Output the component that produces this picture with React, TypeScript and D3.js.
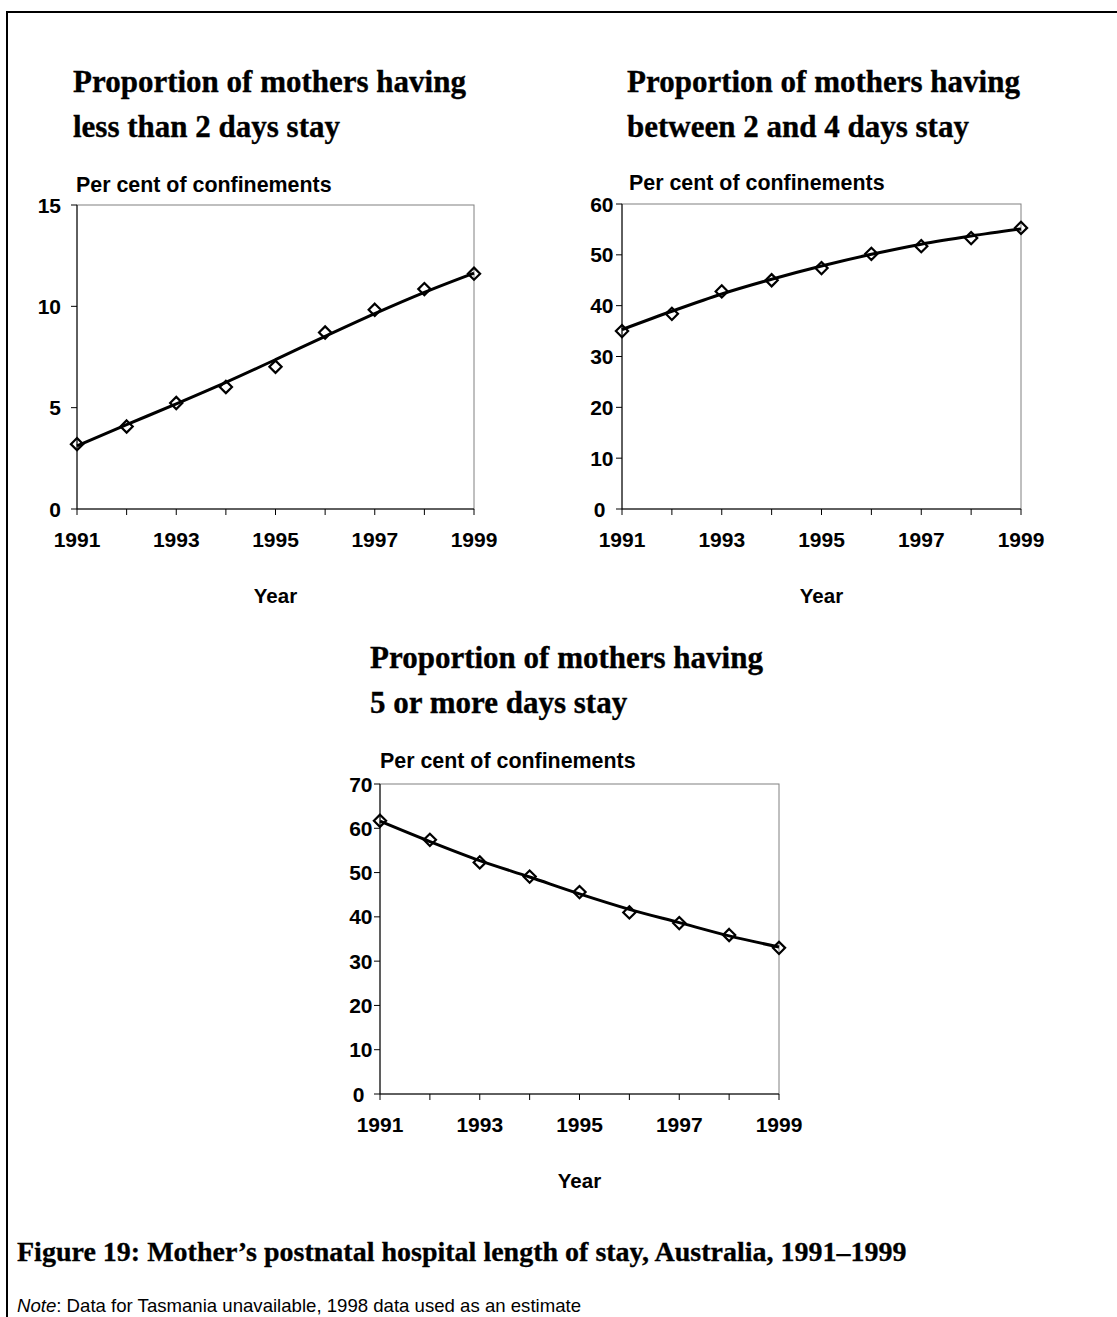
import React from "react";
import * as d3 from "d3";

// ---- data ----
const years = [1991, 1992, 1993, 1994, 1995, 1996, 1997, 1998, 1999];
const xTickLabels = [1991, 1993, 1995, 1997, 1999];

const lessThan2Days = [3.2, 4.07, 5.23, 6.02, 7.02, 8.71, 9.83, 10.85, 11.61];
const lessThan2DaysTrend = [3.12, 4.16, 5.19, 6.25, 7.37, 8.52, 9.64, 10.69, 11.64];
const lessThan2Ticks = [0, 5, 10, 15];

const between2And4Days = [35.0, 38.4, 42.8, 45.0, 47.4, 50.2, 51.7, 53.3, 55.3];
const between2And4DaysTrend = [35.3, 38.9, 42.3, 45.2, 47.8, 50.1, 52.1, 53.7, 55.1];
const between2And4Ticks = [0, 10, 20, 30, 40, 50, 60];

const fiveOrMoreDays = [61.7, 57.4, 52.3, 49.1, 45.6, 41.0, 38.6, 35.9, 33.0];
const fiveOrMoreDaysTrend = [61.6, 57.0, 52.7, 49.0, 45.2, 41.7, 38.7, 35.7, 33.2];
const fiveOrMoreTicks = [0, 10, 20, 30, 40, 50, 60, 70];

const titles1 = ["Proportion of mothers having", "less than 2 days stay"];
const titles2 = ["Proportion of mothers having", "between 2 and 4 days stay"];
const titles3 = ["Proportion of mothers having", "5 or more days stay"];
const yAxisTitle = "Per cent of confinements";
const xAxisTitle = "Year";
const caption = "Figure 19: Mother\u2019s postnatal hospital length of stay, Australia, 1991\u20131999";
const noteLabel = "Note";
const noteText = ": Data for Tasmania unavailable, 1998 data used as an estimate";

const SANS = "'Liberation Sans', Arial, Helvetica, sans-serif";
const SERIF = "'Liberation Serif', 'Times New Roman', Times, serif";

type ChartProps = {
  left: number;
  top: number;
  width: number;
  height: number;
  values: number[];
  trend: number[];
  ticks: number[];
  titleLines: string[];
  titleX: number;
  titleY: number;
  labelX: number;
  labelY: number;
  yLabelGap: number;
  zeroShift: number;
};

function Chart(p: ChartProps) {
  const x = d3.scaleLinear().domain([years[0], years[years.length - 1]]).range([p.left, p.left + p.width]);
  const yMax = p.ticks[p.ticks.length - 1];
  const y = d3.scaleLinear().domain([0, yMax]).range([p.top + p.height, p.top]);
  const pts = years.map((yr, i) => ({ yr, v: p.values[i], t: p.trend[i] }));
  const line = d3
    .line<{ yr: number; t: number }>()
    .x((d) => x(d.yr))
    .y((d) => y(d.t))
    .curve(d3.curveMonotoneX);
  const diamond = d3.symbol().type(d3.symbolDiamond2).size(95)();
  const bottom = p.top + p.height;
  return (
    <g>
      {p.titleLines.map((t, i) => (
        <text
          key={i}
          x={p.titleX}
          y={p.titleY + i * 45}
          fontFamily={SERIF}
          fontWeight="bold"
          fontSize={31}
          fill="#000"
          stroke="#000"
          strokeWidth={0.35}
        >
          {t}
        </text>
      ))}
      <text x={p.labelX} y={p.labelY} fontFamily={SANS} fontWeight="bold" fontSize={21.4} fill="#000">
        {yAxisTitle}
      </text>
      <rect x={p.left} y={p.top} width={p.width} height={p.height} fill="none" stroke="#808080" strokeWidth={1} />
      <line x1={p.left} x2={p.left} y1={p.top} y2={bottom} stroke="#000" strokeWidth={1} />
      <line x1={p.left} x2={p.left + p.width} y1={bottom} y2={bottom} stroke="#000" strokeWidth={1} />
      {p.ticks.map((t) => (
        <g key={t}>
          <line x1={p.left - 6} x2={p.left} y1={y(t)} y2={y(t)} stroke="#000" strokeWidth={1} />
          <text
            x={p.left - p.yLabelGap - (t === 0 ? p.zeroShift : 0)}
            y={y(t)}
            dy="0.36em"
            textAnchor="end"
            fontFamily={SANS}
            fontWeight="bold"
            fontSize={21}
            fill="#000"
          >
            {t}
          </text>
        </g>
      ))}
      {years.map((yr) => (
        <line key={yr} x1={x(yr)} x2={x(yr)} y1={bottom} y2={bottom + 6} stroke="#000" strokeWidth={1} />
      ))}
      {xTickLabels.map((yr) => (
        <text key={yr} x={x(yr)} y={bottom + 38} textAnchor="middle" fontFamily={SANS} fontWeight="bold" fontSize={21} fill="#000">
          {yr}
        </text>
      ))}
      <text x={p.left + p.width / 2} y={bottom + 94} textAnchor="middle" fontFamily={SANS} fontWeight="bold" fontSize={20.5} fill="#000">
        {xAxisTitle}
      </text>
      <path d={line(pts) || ""} fill="none" stroke="#000" strokeWidth={3} strokeLinejoin="round" />
      {pts.map((d) => (
        <path
          key={d.yr}
          d={diamond || ""}
          transform={`translate(${x(d.yr)},${y(d.v)})`}
          fill="none"
          stroke="#000"
          strokeWidth={2.2}
        />
      ))}
    </g>
  );
}

export default function App() {
  return (
    <svg
      width={1117}
      height={1317}
      style={{ position: "absolute", left: 0, top: 0, background: "#fff" }}
    >
      <rect x={0} y={0} width={1117} height={1317} fill="#fff" />
      <line x1={6} x2={1117} y1={12} y2={12} stroke="#000" strokeWidth={2} />
      <line x1={7} x2={7} y1={11} y2={1317} stroke="#000" strokeWidth={2} />
      <Chart
        left={77}
        top={205}
        width={397}
        height={304}
        values={lessThan2Days}
        trend={lessThan2DaysTrend}
        ticks={lessThan2Ticks}
        titleLines={titles1}
        titleX={73}
        titleY={92}
        labelX={76}
        labelY={192}
        yLabelGap={16}
        zeroShift={0}
      />
      <Chart
        left={622}
        top={204}
        width={399}
        height={305}
        values={between2And4Days}
        trend={between2And4DaysTrend}
        ticks={between2And4Ticks}
        titleLines={titles2}
        titleX={627}
        titleY={92}
        labelX={629}
        labelY={190}
        yLabelGap={8.5}
        zeroShift={8}
      />
      <Chart
        left={380}
        top={784}
        width={399}
        height={310}
        values={fiveOrMoreDays}
        trend={fiveOrMoreDaysTrend}
        ticks={fiveOrMoreTicks}
        titleLines={titles3}
        titleX={370}
        titleY={668}
        labelX={380}
        labelY={768}
        yLabelGap={7.5}
        zeroShift={8}
      />
      <text x={17} y={1261} fontFamily={SERIF} fontWeight="bold" fontSize={28} fill="#000" stroke="#000" strokeWidth={0.3}>
        {caption}
      </text>
      <text x={17} y={1312} fontFamily={SANS} fontSize={18.6} fill="#000">
        <tspan fontStyle="italic">{noteLabel}</tspan>
        <tspan>{noteText}</tspan>
      </text>
    </svg>
  );
}
